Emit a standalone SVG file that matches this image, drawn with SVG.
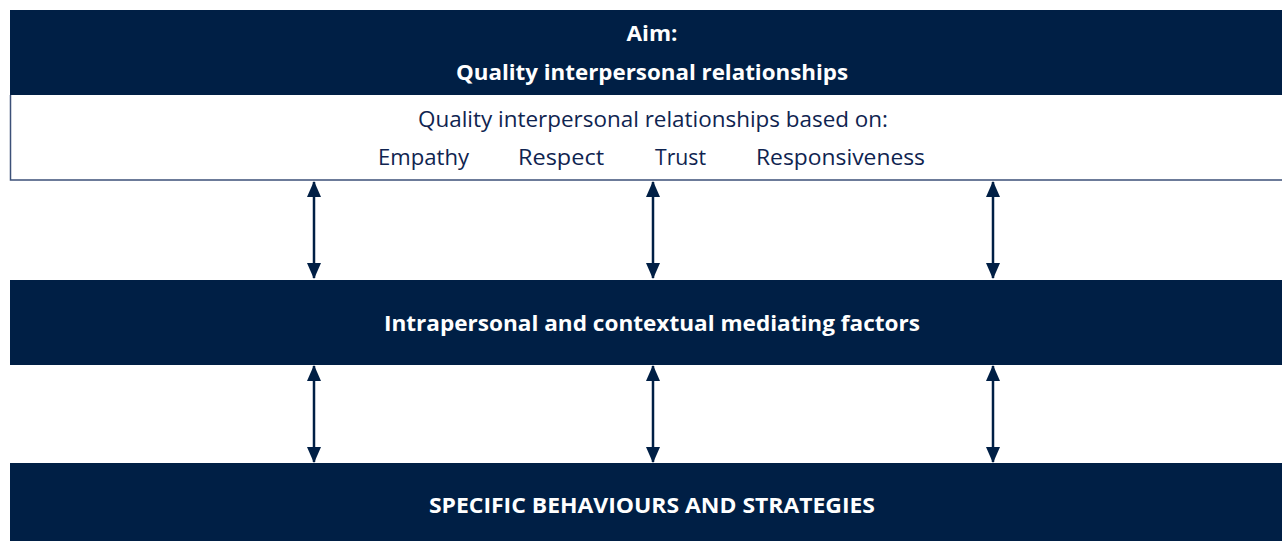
<svg xmlns="http://www.w3.org/2000/svg" width="1282" height="541" viewBox="0 0 1282 541">
<defs>
<style>
.bar{fill:#001f45}
.hd{font-family:"Open Sans","Noto Sans",sans-serif;font-weight:bold;font-size:22px;fill:#ffffff;text-anchor:middle}
.tx{font-family:"Open Sans","Noto Sans",sans-serif;font-size:22px;fill:#0f2450;text-anchor:middle}
.conn{stroke:#001f45;stroke-width:2.5;fill:none;marker-start:url(#ah);marker-end:url(#ah)}
</style>
<marker id="ah" viewBox="0 0 16 14" refX="15" refY="7" markerWidth="16" markerHeight="14" markerUnits="userSpaceOnUse" orient="auto-start-reverse">
<path d="M0,0 L16,7 L0,14 Z" fill="#001f45"/>
</marker>
</defs>
<rect width="1282" height="541" fill="#ffffff"/>
<g id="aim">
<rect class="bar" x="10" y="10" width="1272" height="85"/>
<text class="hd" x="652" y="41" textLength="51" lengthAdjust="spacingAndGlyphs">Aim:</text>
<text class="hd" x="652" y="80" textLength="392" lengthAdjust="spacingAndGlyphs">Quality interpersonal relationships</text>
</g>
<g id="basis">
<path d="M1282,180 H10.5 V95" fill="#ffffff" stroke="#3c5078" stroke-width="1.5"/>
<text class="tx" x="653" y="127" textLength="470" lengthAdjust="spacingAndGlyphs">Quality interpersonal relationships based on:</text>
<text class="tx" x="423.5" y="165" textLength="91" lengthAdjust="spacingAndGlyphs">Empathy</text>
<text class="tx" x="561" y="165" textLength="86" lengthAdjust="spacingAndGlyphs">Respect</text>
<text class="tx" x="680.5" y="165" textLength="51" lengthAdjust="spacingAndGlyphs">Trust</text>
<text class="tx" x="840.5" y="165" textLength="169" lengthAdjust="spacingAndGlyphs">Responsiveness</text>
</g>
<g id="mediating">
<rect class="bar" x="10" y="280" width="1272" height="85"/>
<text class="hd" x="652" y="331" textLength="536" lengthAdjust="spacingAndGlyphs">Intrapersonal and contextual mediating factors</text>
</g>
<g id="behaviours">
<rect class="bar" x="10" y="463" width="1272" height="80"/>
<text class="hd" x="652" y="513" textLength="446" lengthAdjust="spacingAndGlyphs">SPECIFIC BEHAVIOURS AND STRATEGIES</text>
</g>
<g id="connectors">
<line class="conn" x1="314" y1="182" x2="314" y2="278"/>
<line class="conn" x1="653" y1="182" x2="653" y2="278"/>
<line class="conn" x1="993" y1="182" x2="993" y2="278"/>
<line class="conn" x1="314" y1="366" x2="314" y2="462"/>
<line class="conn" x1="653" y1="366" x2="653" y2="462"/>
<line class="conn" x1="993" y1="366" x2="993" y2="462"/>
</g>
</svg>
